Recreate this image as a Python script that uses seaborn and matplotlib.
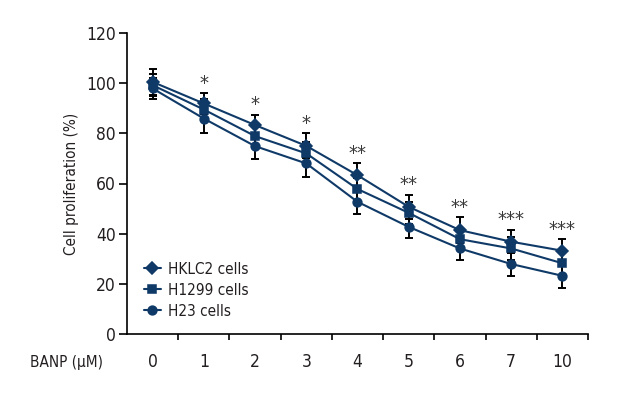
"""
Cell proliferation of lung cancer lines under increasing BANP dose.
"""
import numpy as np
import pandas as pd
import matplotlib
matplotlib.use('Agg')
import matplotlib.pyplot as plt
import seaborn as sns

# values
doses = ['0', '1', '2', '3', '4', '5', '6', '7', '10']
series_names = ['HKLC2 cells', 'H1299 cells', 'H23 cells']
hklc2 = [100.5, 91.9, 83.3, 75.0, 63.3, 50.7, 41.4, 36.8, 33.2]
h1299 = [99.2, 89.5, 78.9, 72.0, 57.8, 48.3, 37.8, 34.1, 28.2]
h23 = [97.9, 85.9, 74.9, 68.0, 52.7, 42.7, 34.1, 27.9, 23.2]
hklc2_err = [5.1, 4.0, 4.2, 5.0, 4.7, 4.7, 5.1, 4.6, 4.5]
h1299_err = [4.5, 4.0, 4.5, 4.5, 4.5, 4.5, 4.5, 4.5, 4.5]
h23_err = [4.3, 5.6, 5.3, 5.3, 4.9, 4.6, 4.6, 4.7, 5.0]
stars = ['', '*', '*', '*', '**', '**', '**', '***', '***']

NAVY = '#0f3a68'
INK = '#231f20'

sns.set_style('ticks')
plt.rcParams['font.family'] = ['DejaVu Sans']
plt.rcParams['font.stretch'] = 'condensed'
plt.rcParams['text.color'] = INK
plt.rcParams['axes.labelcolor'] = INK
plt.rcParams['xtick.color'] = INK
plt.rcParams['ytick.color'] = INK

df = pd.DataFrame({
    'dose': doses * 3,
    'value': hklc2 + h1299 + h23,
    'line': np.repeat(series_names, len(doses)),
})

fig = plt.figure(figsize=(6.2, 4.0), dpi=100)
ax = fig.add_axes([0.2048, 0.165, 0.9484 - 0.2048, 0.9175 - 0.165])

pos = np.arange(len(doses))
for vals, err in [(hklc2, hklc2_err), (h1299, h1299_err), (h23, h23_err)]:
    ax.errorbar(pos, vals, yerr=err, fmt='none', ecolor='black',
                elinewidth=1.4, capsize=3.2, capthick=1.4, zorder=1)

sns.pointplot(data=df, x='dose', y='value', hue='line', order=doses,
              hue_order=series_names, palette=[NAVY] * 3,
              markers=['D', 's', 'o'], linestyles='-', errorbar=None,
              dodge=False, markersize=6.3, linewidth=1.5, ax=ax, zorder=3)

# significance marks above the upper error bar
for i, s in enumerate(stars):
    if s:
        ax.text(pos[i], hklc2[i] + hklc2_err[i] + 0.3, s,
                ha='center', va='bottom', fontsize=14.5, color='#3a3a3a')

ax.set_xlim(-0.5, len(doses) - 0.5)
ax.set_ylim(0, 120)
ax.set_yticks(range(0, 121, 20))
ax.set_xticks(np.arange(0.5, len(doses), 1.0))
ax.set_xticklabels([])
ax.set_xticks(pos, minor=True)
ax.set_xticklabels(doses, minor=True)
ax.tick_params(axis='x', which='major', length=4, width=1.2, color='black')
ax.tick_params(axis='x', which='minor', length=0, pad=14, labelsize=12.5)
ax.tick_params(axis='y', length=6, width=1.2, pad=2, labelsize=12.5,
               color='black')
for side in ['left', 'bottom']:
    ax.spines[side].set_linewidth(1.2)
    ax.spines[side].set_color('black')
sns.despine(ax=ax)

ax.set_xlabel('')
ax.set_ylabel('Cell proliferation (%)', fontsize=11, labelpad=5)
fig.text(67 / 620, 1 - 363 / 400, 'BANP (μM)', ha='center', va='center',
         fontsize=11)

leg = ax.legend(loc='lower left', bbox_to_anchor=(0.02, 0.025), frameon=False,
                fontsize=11, handlelength=1.1, handletextpad=0.5,
                labelspacing=0.4, borderpad=0)

fig.savefig('out.png', dpi=100)
